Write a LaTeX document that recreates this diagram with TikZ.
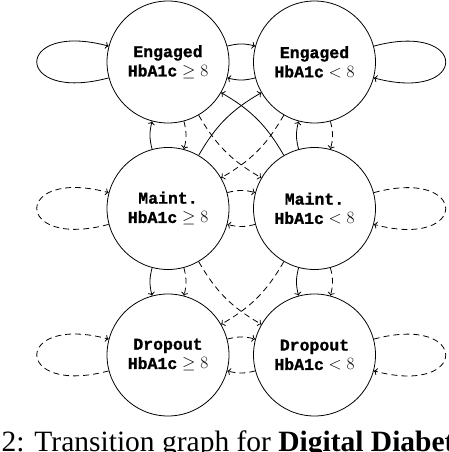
\documentclass[tikz,border=0pt]{standalone}
\usepackage{fontspec}
\setmainfont{Liberation Serif}
\setmonofont[BoldFeatures={FakeBold=1.2}]{Liberation Mono}
\usetikzlibrary{arrows.meta}
\newcommand{\stx}[1]{{\fontsize{16.5}{19.3}\selectfont\ttfamily\bfseries #1}}
\begin{document}
\begin{tikzpicture}[x=1pt,y=1pt,
  st/.style={circle,draw,line width=0.8pt,minimum size=122pt,inner sep=0pt,align=center,
    font=\fontsize{19}{19.3}\selectfont},
  tr/.style={->,line width=0.8pt},
  dsh/.style={dash pattern=on 6pt off 4pt}]
\useasboundingbox (0,0) rectangle (448,452);
\clip (0,0) rectangle (448,452);
\node[st] (EH) at (168,390) {\stx{Engaged}\\$\mbox{\stx{HbA1c}}\geq 8$};
\node[st] (EL) at (314.5,390) {\stx{Engaged}\\$\mbox{\stx{HbA1c}}< 8$};
\node[st] (MH) at (168,243.5) {\stx{Maint.}\\$\mbox{\stx{HbA1c}}\geq 8$};
\node[st] (ML) at (314.5,243.5) {\stx{Maint.}\\$\mbox{\stx{HbA1c}}< 8$};
\node[st] (DH) at (168,97) {\stx{Dropout}\\$\mbox{\stx{HbA1c}}\geq 8$};
\node[st] (DL) at (314.5,97) {\stx{Dropout}\\$\mbox{\stx{HbA1c}}< 8$};
% top row
\draw[tr] (EH) to[bend left=15] (EL);
\draw[tr] (EL) to[bend left=15] (EH);
\draw[tr] (EH) to[loop left] (EH);
\draw[tr] (EL) to[loop right] (EL);
% top to middle
\draw[tr] (MH) to[bend left=15] (EH);
\draw[tr,dsh] (EH) to[bend left=15] (MH);
\draw[tr] (ML) to[bend left=15] (EL);
\draw[tr,dsh] (EL) to[bend left=15] (ML);
\draw[tr] (MH) to[bend left=15] (EL);
\draw[tr] (ML) to[bend right=15] (EH);
\draw[tr,dsh] (EH) to[bend right=15] (ML);
\draw[tr,dsh] (EL) to[bend left=15] (MH);
% middle row
\draw[tr,dsh] (MH) to[bend left=15] (ML);
\draw[tr,dsh] (ML) to[bend left=15] (MH);
\draw[tr,dsh] (MH) to[loop left] (MH);
\draw[tr,dsh] (ML) to[loop right] (ML);
% middle to bottom
\draw[tr] (MH) to[bend right=15] (DH);
\draw[tr,dsh] (MH) to[bend left=15] (DH);
\draw[tr] (ML) to[bend right=15] (DL);
\draw[tr,dsh] (ML) to[bend left=15] (DL);
\draw[tr,dsh] (MH) to[bend right=15] (DL);
\draw[tr,dsh] (ML) to[bend left=15] (DH);
% bottom row
\draw[tr,dsh] (DH) to[bend left=15] (DL);
\draw[tr,dsh] (DL) to[bend left=15] (DH);
\draw[tr,dsh] (DH) to[loop left] (DH);
\draw[tr,dsh] (DL) to[loop right] (DL);
% caption (cut off at the bottom, as in the reference)
\node[anchor=base west,inner sep=0pt,font=\fontsize{29.5}{30}\selectfont] (cap) at (1.5,0)
  {2: Transition graph for \textbf{Digital Diabetes}};
\end{tikzpicture}
\end{document}
